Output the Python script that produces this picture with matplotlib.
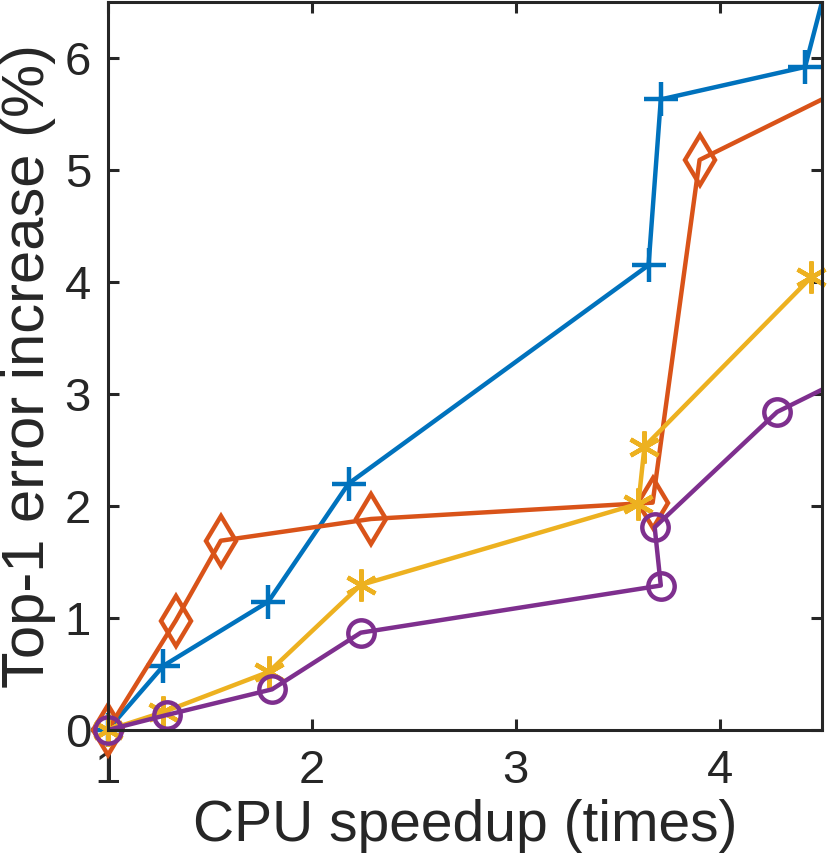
import matplotlib
matplotlib.use("Agg")
import matplotlib.pyplot as plt

# -----------------------------
# Data
# -----------------------------
blue_x = [1.0, 1.273, 1.787, 2.18, 3.65, 3.71, 4.417, 4.6]
blue_y = [0.0, 0.574, 1.146, 2.20, 4.15, 5.63, 5.92, 7.2]

orange_x = [1.0, 1.333, 1.554, 2.29, 3.67, 3.90, 4.9]
orange_y = [0.0, 0.976, 1.69, 1.884, 2.03, 5.09, 5.99]

yellow_x = [1.0, 1.273, 1.79, 2.24, 3.60, 3.63, 4.446]
yellow_y = [0.0, 0.16, 0.52, 1.295, 2.02, 2.53, 4.04]

purple_x = [1.0, 1.289, 1.805, 2.24, 3.71, 3.68, 4.28, 4.8]
purple_y = [0.0, 0.134, 0.363, 0.869, 1.29, 1.81, 2.84, 3.31]

x_ticks = [1, 2, 3, 4]
y_ticks = [0, 1, 2, 3, 4, 5, 6]

# MATLAB default colours
c_blue = "#0072BD"
c_orange = "#D95319"
c_yellow = "#EDB120"
c_purple = "#7E2F8E"
c_axis = "#262626"

XLIM = (1, 4.5)
YLIM = (0, 6.5)

plt.rcParams["font.family"] = ["Liberation Sans", "DejaVu Sans"]

fig = plt.figure(figsize=(8.30, 8.56), dpi=100)
ax = fig.add_axes([0.1298, 0.1472, 0.9904 - 0.1298, 0.9977 - 0.1472])

lw = 3.2


def draw(xs, ys, color, marker, ms, mfc=None):
    # line is clipped at the box, markers inside the limits are not (like MATLAB)
    ax.plot(xs, ys, color=color, lw=lw)
    inside = [(x, y) for x, y in zip(xs, ys)
              if XLIM[0] <= x <= XLIM[1] and YLIM[0] <= y <= YLIM[1]]
    mx = [p[0] for p in inside]
    my = [p[1] for p in inside]
    ax.plot(mx, my, ls="none", color=color, marker=marker, ms=ms, mew=3.2,
            mfc=mfc if mfc else color, clip_on=False)


draw(blue_x, blue_y, c_blue, "+", 25)
draw(orange_x, orange_y, c_orange, "d", 25, mfc="none")
draw(yellow_x, yellow_y, c_yellow, (6, 2, 0), 23)
draw(purple_x, purple_y, c_purple, "o", 19, mfc="none")

ax.set_xlim(*XLIM)
ax.set_ylim(*YLIM)
ax.set_xticks(x_ticks)
ax.set_yticks(y_ticks)

for s in ax.spines.values():
    s.set_linewidth(2.2)
    s.set_color(c_axis)
ax.tick_params(direction="in", length=8, width=2.2, color=c_axis,
               labelcolor=c_axis, labelsize=34, top=True, right=True)
ax.tick_params(axis="x", pad=14)
ax.tick_params(axis="y", pad=12)

ax.set_xlabel("CPU speedup (times)", fontsize=41, color=c_axis, labelpad=4)
ax.set_ylabel("Top-1 error increase (%)", fontsize=43, color=c_axis, labelpad=6)

fig.savefig("out.png", dpi=100)
plt.close(fig)
